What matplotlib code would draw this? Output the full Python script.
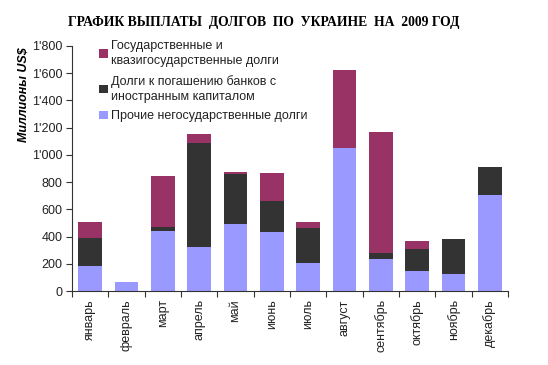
import matplotlib.pyplot as plt
import matplotlib.ticker as ticker
import numpy as np

# months and stacked values (million US$)
months = ["январь", "февраль", "март", "апрель", "май", "июнь",
          "июль", "август", "сентябрь", "октябрь", "ноябрь", "декабрь"]
other = [186, 64, 438, 323, 490, 436, 203, 1053, 233, 149, 123, 703]
banks = [203, 0, 34, 762, 370, 225, 257, 0, 49, 160, 257, 210]
state = [116, 0, 373, 71, 17, 208, 49, 571, 889, 58, 0, 0]

labels = ["Государственные и\nквазигосударственные долги",
          "Долги к погашению банков с\nиностранным капиталом",
          "Прочие негосударственные долги"]
colors = ["#993366", "#333333", "#9999ff"]

plt.rcParams['font.family'] = ['Liberation Sans', 'DejaVu Sans']

fig = plt.figure(figsize=(5.48, 3.65), dpi=100)
ax = fig.add_axes([0.1314, 0.2027, 0.7956, 0.6713])

x = np.arange(len(months))
w = 0.66
b1 = np.array(other)
b2 = b1 + np.array(banks)
h_state = ax.bar(x, state, w, bottom=b2, color=colors[0], label=labels[0])
h_banks = ax.bar(x, banks, w, bottom=b1, color=colors[1], label=labels[1])
h_other = ax.bar(x, other, w, color=colors[2], label=labels[2])

ax.set_xlim(-0.5, len(months) - 0.5)
ax.set_ylim(0, 1800)
ax.yaxis.set_major_locator(ticker.MultipleLocator(200))
ax.yaxis.set_major_formatter(ticker.FuncFormatter(
    lambda v, p: f"{int(v):,}".replace(",", "'")))
ax.xaxis.set_major_locator(ticker.FixedLocator(np.arange(-0.5, len(months), 1)))
ax.xaxis.set_major_formatter(ticker.NullFormatter())
ax.xaxis.set_minor_locator(ticker.FixedLocator(x))
ax.xaxis.set_minor_formatter(ticker.FixedFormatter(months))
ax.tick_params(axis='x', which='minor', length=0, rotation=90, labelsize=9,
               pad=6, colors='#222222')
ax.tick_params(axis='x', which='major', length=4, width=0.8, color='#333333')
ax.tick_params(axis='y', length=4, width=0.8, labelsize=9, color='#333333',
               labelcolor='#222222', pad=3)
for s in ['top', 'right']:
    ax.spines[s].set_visible(False)
for s in ['left', 'bottom']:
    ax.spines[s].set_color('#333333')
    ax.spines[s].set_linewidth(0.8)

leg = ax.legend(handles=[h_state, h_banks, h_other], loc='upper left',
                bbox_to_anchor=(0.036, 1.07), frameon=False, fontsize=9,
                handlelength=0.7, handleheight=0.7, handletextpad=0.3,
                labelspacing=0.6, labelcolor='#222222')
for t in leg.get_texts():
    t.set_linespacing(1.35)

fig.text(0.044, 0.742, "Миллионы US$", rotation=90, style='italic',
         fontweight='bold', fontsize=9, ha='center', va='center')
fig.suptitle("ГРАФИК ВЫПЛАТЫ  ДОЛГОВ  ПО  УКРАИНЕ  НА  2009 ГОД",
             x=0.482, y=0.955, fontsize=9.8, fontweight='bold',
             family=['Liberation Serif', 'DejaVu Serif'])

fig.savefig("out.png", dpi=100)
